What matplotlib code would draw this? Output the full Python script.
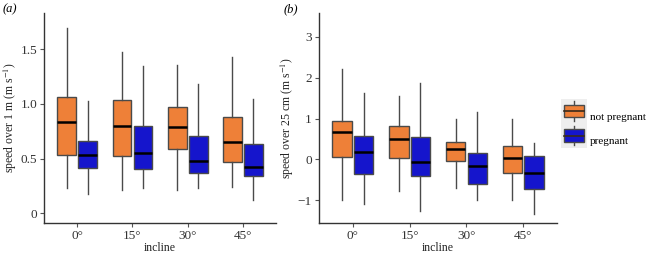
import matplotlib
matplotlib.use("Agg")
import matplotlib.pyplot as plt
from matplotlib.patches import Rectangle
from matplotlib.lines import Line2D
from matplotlib.legend_handler import HandlerBase

plt.rcParams['font.family'] = ['Liberation Serif', 'DejaVu Serif']
plt.rcParams['mathtext.fontset'] = 'stix'

# categories
inclines = ["0°", "15°", "30°", "45°"]
groups = ["not pregnant", "pregnant"]
colors = ["#EE8038", "#1515CC"]

# panel (a): speed over 1 m  -> [whislo, q1, med, q3, whishi] per incline
a_notpreg = [[0.23, 0.53, 0.835, 1.06, 1.69],
             [0.215, 0.52, 0.80, 1.04, 1.47],
             [0.21, 0.585, 0.79, 0.97, 1.36],
             [0.24, 0.47, 0.65, 0.88, 1.43]]
a_preg = [[0.18, 0.41, 0.535, 0.66, 1.03],
          [0.23, 0.405, 0.55, 0.795, 1.345],
          [0.23, 0.365, 0.475, 0.705, 1.18],
          [0.12, 0.34, 0.42, 0.63, 1.045]]

# panel (b): speed over 25 cm
b_notpreg = [[-1.0, 0.06, 0.67, 0.93, 2.2],
             [-0.78, 0.04, 0.49, 0.825, 1.54],
             [-0.70, -0.04, 0.25, 0.42, 1.0],
             [-0.98, -0.34, 0.045, 0.33, 1.0]]
b_preg = [[-1.09, -0.36, 0.175, 0.58, 1.63],
          [-1.26, -0.41, -0.07, 0.55, 1.88],
          [-1.0, -0.60, -0.15, 0.16, 1.15],
          [-1.34, -0.73, -0.33, 0.09, 0.40]]


def stats(rows):
    return [dict(whislo=r[0], q1=r[1], med=r[2], q3=r[3], whishi=r[4],
                 fliers=[]) for r in rows]


def draw_panel(ax, series, ylabel, yticks, yticklabels, ylim):
    for k, (rows, col) in enumerate(zip(series, colors)):
        pos = [i + 1 + (k - 0.5) * 0.38 for i in range(len(inclines))]
        ax.bxp(stats(rows), positions=pos, widths=0.34, patch_artist=True,
               showcaps=False, manage_ticks=False,
               boxprops=dict(facecolor=col, edgecolor="#4a4a4a", linewidth=1.0),
               whiskerprops=dict(color="#4a4a4a", linewidth=1.0),
               medianprops=dict(color="black", linewidth=1.8))
    ax.set_xlim(0.4, 4.6)
    ax.set_ylim(*ylim)
    ax.set_xticks(range(1, len(inclines) + 1))
    ax.set_xticklabels(inclines)
    ax.set_yticks(yticks)
    ax.set_yticklabels(yticklabels)
    ax.set_xlabel("incline", fontsize=8.5, color="#222222", labelpad=0)
    ax.set_ylabel(ylabel, fontsize=8.5, color="#222222", labelpad=1)
    for s in ["top", "right"]:
        ax.spines[s].set_visible(False)
    for s in ["left", "bottom"]:
        ax.spines[s].set_color("#333333")
        ax.spines[s].set_linewidth(1.0)
    ax.tick_params(axis="both", labelsize=9.5, length=3, width=0.8,
                   color="#555555", labelcolor="#333333", pad=2)


class BoxKey(HandlerBase):
    def create_artists(self, legend, orig, xd, yd, w, h, fontsize, trans):
        col = orig.get_facecolor()
        cx = xd + w / 2
        ext = 0.5 * legend.labelspacing * fontsize
        art = [Rectangle((xd - 2, yd - ext), w + 4, h + 2 * ext, facecolor="#EEEEEE",
                         edgecolor="none", transform=trans),
               Line2D([cx, cx], [yd - 0.3 * h, yd + 1.3 * h], color="#4a4a4a", lw=1.0, transform=trans),
               Rectangle((xd, yd), w, h, facecolor=col, edgecolor="#4a4a4a", lw=1.0, transform=trans),
               Line2D([xd, xd + w], [yd + h / 2, yd + h / 2], color="#3a2a1a", lw=1.2, transform=trans)]
        return art


fig = plt.figure(figsize=(6.48, 2.56), dpi=100)
ax_a = fig.add_axes([0.068, 0.128, 0.358, 0.821])
ax_b = fig.add_axes([0.492, 0.128, 0.368, 0.821])

draw_panel(ax_a, [a_notpreg, a_preg], r"speed over 1 m (m s$^{-1}$)",
           [0, 0.5, 1.0, 1.5], ["0", "0.5", "1.0", "1.5"], (-0.09, 1.83))
draw_panel(ax_b, [b_notpreg, b_preg], r"speed over 25 cm (m s$^{-1}$)",
           [-1, 0, 1, 2, 3], ["\u22121", "0", "1", "2", "3"], (-1.56, 3.58))

fig.text(0.004, 0.965, "(a)", fontsize=9, style="italic", va="center")
fig.text(0.438, 0.965, "(b)", fontsize=9, style="italic", va="center")

handles = [Rectangle((0, 0), 1, 1, facecolor=c) for c in colors]
leg = fig.legend(handles, groups, handler_map={Rectangle: BoxKey()},
                 loc="center left", bbox_to_anchor=(0.856, 0.50),
                 frameon=False, fontsize=8, handlelength=1.85, handleheight=1.3,
                 handletextpad=0.5, labelspacing=1.1, borderpad=0.3)

fig.savefig("out.png", dpi=100)
